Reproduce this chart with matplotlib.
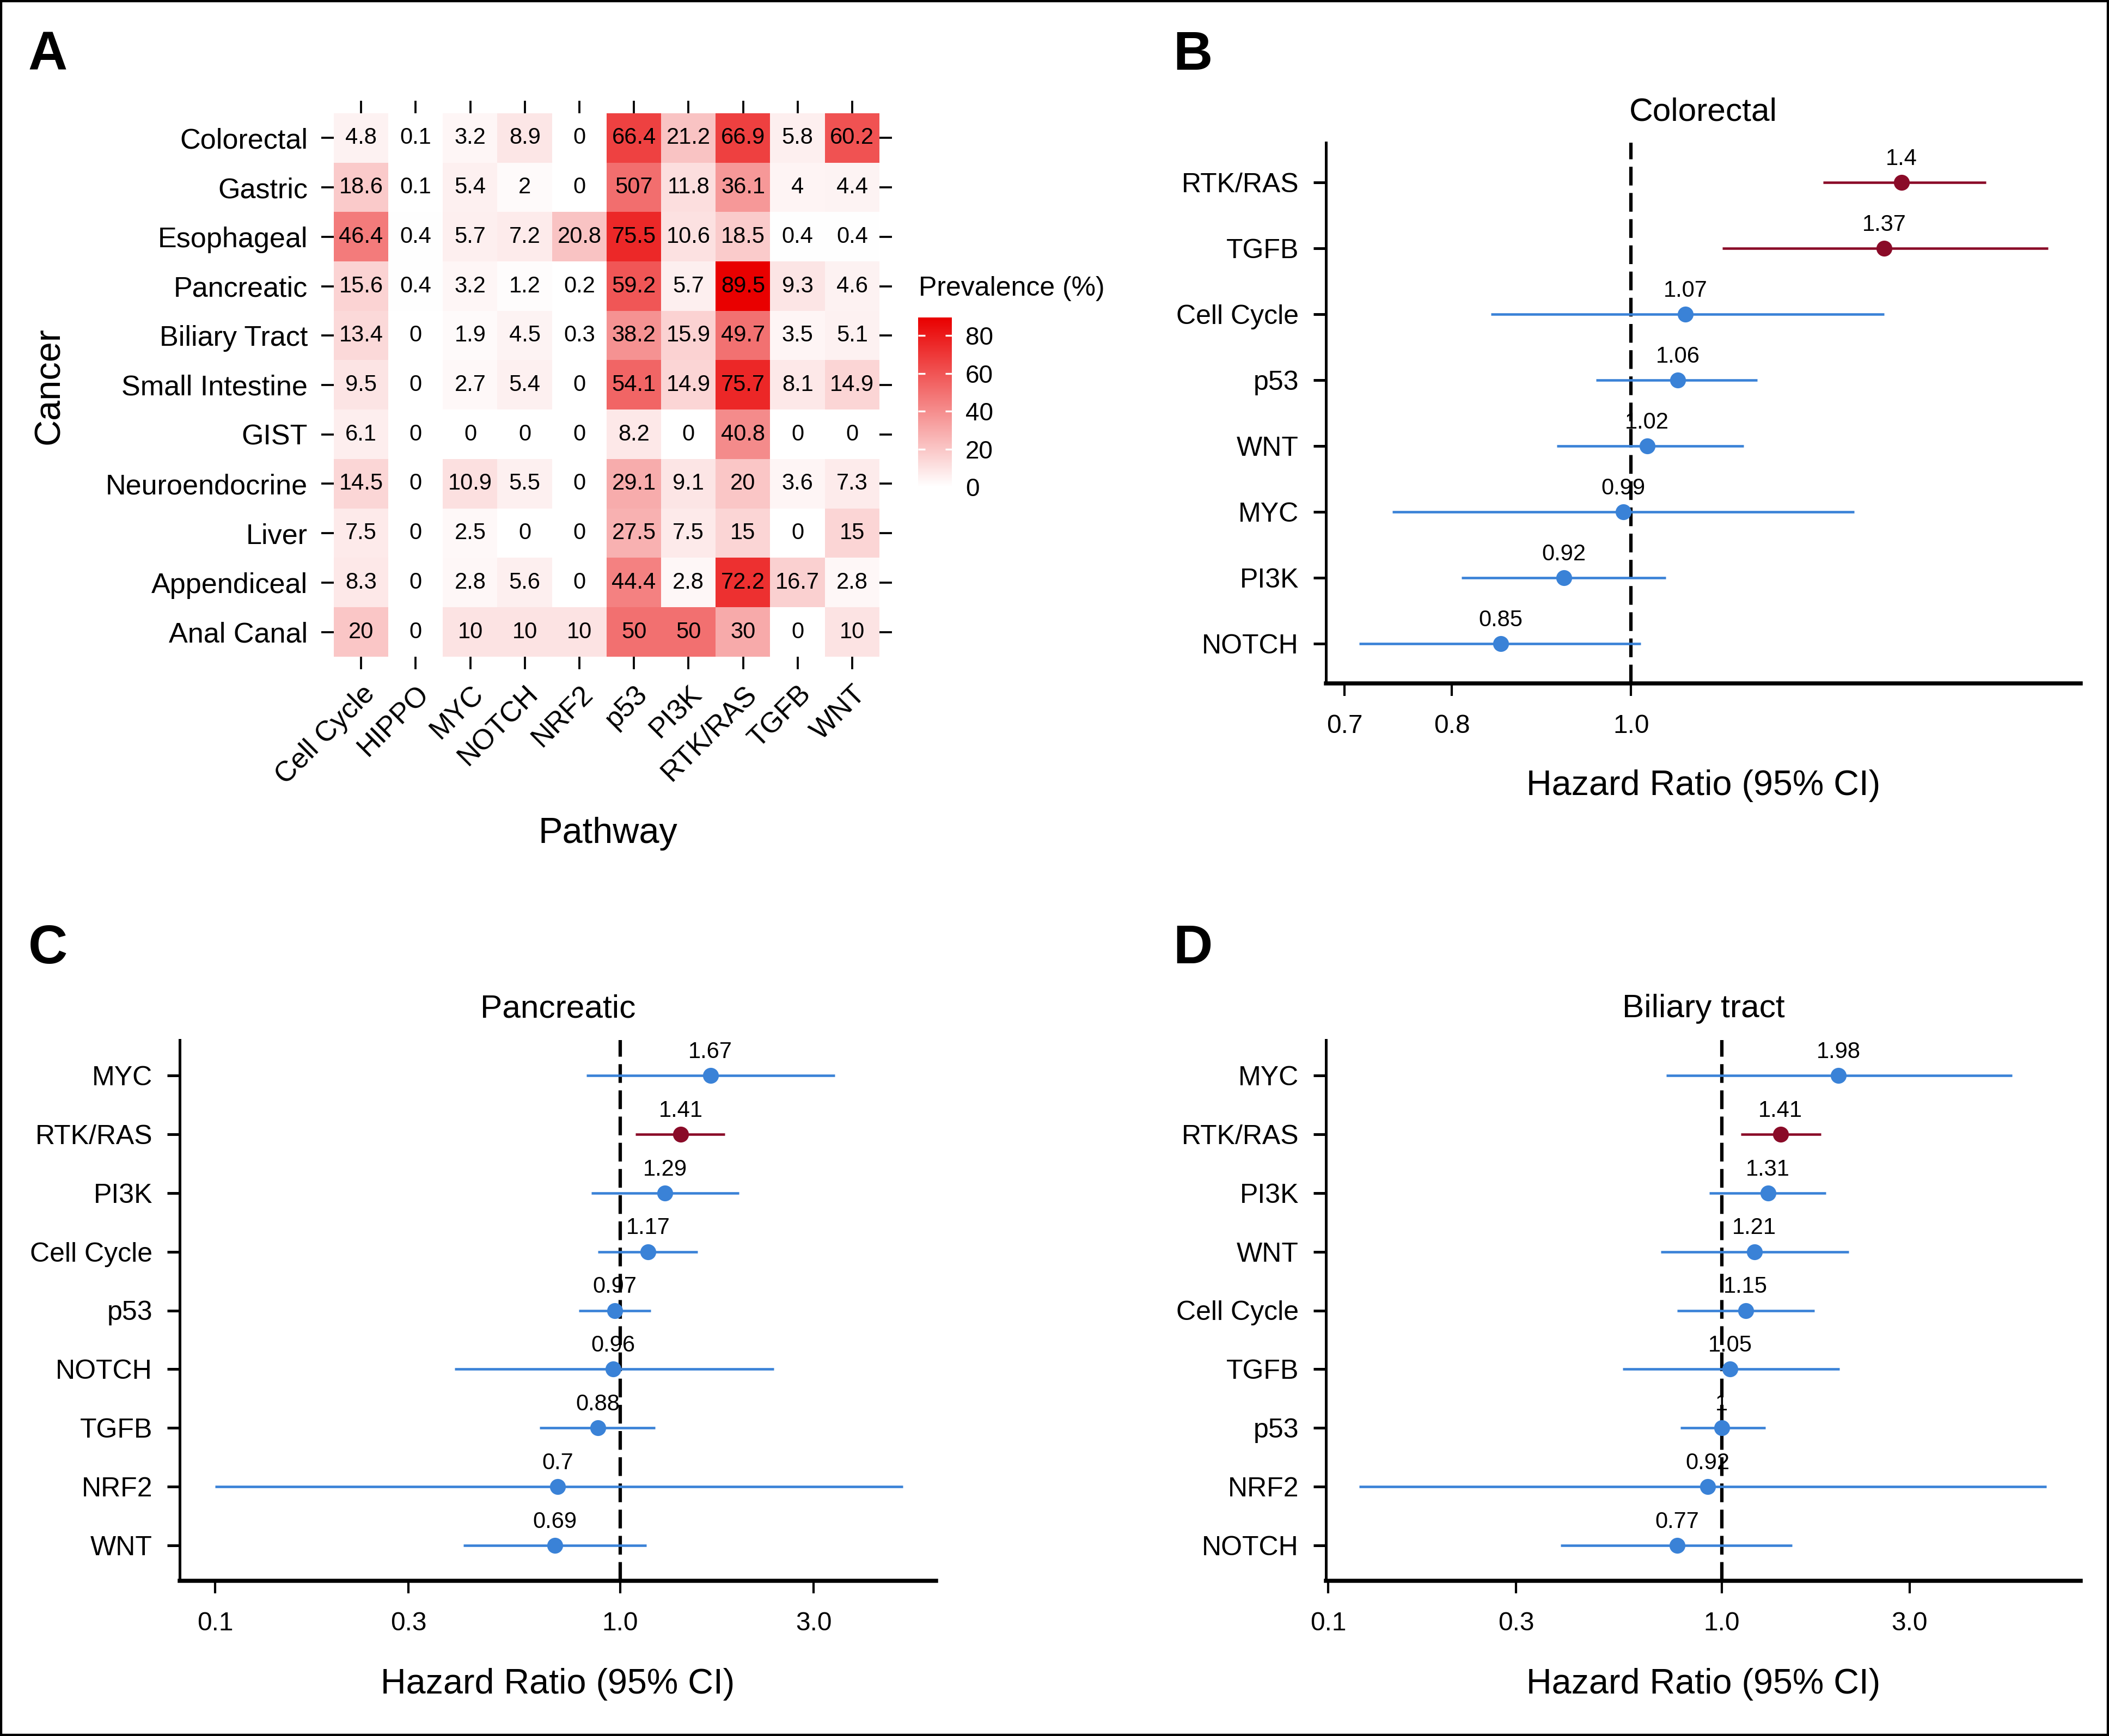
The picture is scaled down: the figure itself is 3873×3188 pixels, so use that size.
import numpy as np
import matplotlib
matplotlib.use("Agg")
import matplotlib.pyplot as plt
from matplotlib.colors import LinearSegmentedColormap
from matplotlib.patches import Rectangle
from matplotlib.ticker import NullLocator
from matplotlib import font_manager

plt.rcParams['font.family'] = ['Liberation Sans', 'DejaVu Sans']

# ---- data: panel A heatmap (prevalence %) ----
cancers = ['Colorectal', 'Gastric', 'Esophageal', 'Pancreatic', 'Biliary Tract',
           'Small Intestine', 'GIST', 'Neuroendocrine', 'Liver', 'Appendiceal', 'Anal Canal']
pathways = ['Cell Cycle', 'HIPPO', 'MYC', 'NOTCH', 'NRF2', 'p53', 'PI3K', 'RTK/RAS', 'TGFB', 'WNT']
prevalence = np.array([
    [4.8, 0.1, 3.2, 8.9, 0, 66.4, 21.2, 66.9, 5.8, 60.2],
    [18.6, 0.1, 5.4, 2, 0, 50.7, 11.8, 36.1, 4, 4.4],
    [46.4, 0.4, 5.7, 7.2, 20.8, 75.5, 10.6, 18.5, 0.4, 0.4],
    [15.6, 0.4, 3.2, 1.2, 0.2, 59.2, 5.7, 89.5, 9.3, 4.6],
    [13.4, 0, 1.9, 4.5, 0.3, 38.2, 15.9, 49.7, 3.5, 5.1],
    [9.5, 0, 2.7, 5.4, 0, 54.1, 14.9, 75.7, 8.1, 14.9],
    [6.1, 0, 0, 0, 0, 8.2, 0, 40.8, 0, 0],
    [14.5, 0, 10.9, 5.5, 0, 29.1, 9.1, 20, 3.6, 7.3],
    [7.5, 0, 2.5, 0, 0, 27.5, 7.5, 15, 0, 15],
    [8.3, 0, 2.8, 5.6, 0, 44.4, 2.8, 72.2, 16.7, 2.8],
    [20, 0, 10, 10, 10, 50, 50, 30, 0, 10],
])
# the printed label in the source reads "507" for gastric p53
label_override = {(1, 5): '507'}

# ---- data: panel B colorectal ----
b_names = ['RTK/RAS', 'TGFB', 'Cell Cycle', 'p53', 'WNT', 'MYC', 'PI3K', 'NOTCH']
b_hr = [1.40, 1.37, 1.07, 1.06, 1.02, 0.99, 0.92, 0.85]
b_lo = [1.27, 1.12, 0.84, 0.957, 0.912, 0.743, 0.81, 0.713]
b_hi = [1.555, 1.68, 1.37, 1.17, 1.15, 1.32, 1.044, 1.012]
b_sig = [True, True, False, False, False, False, False, False]

# ---- data: panel C pancreatic ----
c_names = ['MYC', 'RTK/RAS', 'PI3K', 'Cell Cycle', 'p53', 'NOTCH', 'TGFB', 'NRF2', 'WNT']
c_hr = [1.67, 1.41, 1.29, 1.17, 0.97, 0.96, 0.88, 0.70, 0.69]
c_lo = [0.825, 1.09, 0.849, 0.88, 0.79, 0.39, 0.632, 0.10, 0.41]
c_hi = [3.39, 1.81, 1.96, 1.55, 1.19, 2.39, 1.22, 4.99, 1.16]
c_sig = [False, True, False, False, False, False, False, False, False]

# ---- data: panel D biliary tract ----
d_names = ['MYC', 'RTK/RAS', 'PI3K', 'WNT', 'Cell Cycle', 'TGFB', 'p53', 'NRF2', 'NOTCH']
d_hr = [1.98, 1.41, 1.31, 1.21, 1.15, 1.05, 1.0, 0.92, 0.77]
d_lo = [0.722, 1.12, 0.93, 0.70, 0.77, 0.56, 0.785, 0.12, 0.39]
d_hi = [5.47, 1.79, 1.84, 2.10, 1.72, 1.99, 1.29, 6.69, 1.51]
d_sig = [False, True, False, False, False, False, False, False, False]

RED = '#8A0B28'
BLUE = '#3A82D7'

W, H = 3873, 3188
fig = plt.figure(figsize=(W / 300, H / 300), dpi=300)


def fx(px):
    return px / W


def fy(py):
    return 1 - py / H


fonts = {f.name for f in font_manager.fontManager.ttflist}
if 'Liberation Sans Narrow' in fonts:
    hr_font = dict(family=['Liberation Sans Narrow', 'DejaVu Sans'], size=18.5)
else:
    hr_font = dict(family=['Liberation Sans', 'DejaVu Sans'], size=15.5)

# ---------------- Panel A ----------------
cmap = LinearSegmentedColormap.from_list('prev', ['#FFFFFF', '#E90000'])
ax_h = fig.add_axes([fx(613), fy(1206), fx(1615) - fx(613), fy(208) - fy(1206)])
im = ax_h.imshow(prevalence, cmap=cmap, vmin=0, vmax=prevalence.max(),
                 aspect='auto', interpolation='nearest')
for i in range(prevalence.shape[0]):
    for j in range(prevalence.shape[1]):
        txt = label_override.get((i, j), f"{prevalence[i, j]:g}")
        ax_h.text(j, i, txt, ha='center', va='center', fontsize=10)
for s in ax_h.spines.values():
    s.set_visible(False)
ax_h.set_xticks(range(len(pathways)))
ax_h.set_xticklabels(pathways, rotation=45, ha='right', rotation_mode='anchor')
ax_h.set_yticks(range(len(cancers)))
ax_h.set_yticklabels(cancers)
ax_h.tick_params(axis='x', top=True, bottom=True, labeltop=False, length=5.5,
                 width=0.9, pad=5, labelsize=12.5)
ax_h.tick_params(axis='y', left=True, right=True, labelright=False, length=5.5,
                 width=0.9, pad=6, labelsize=12.5)

cax = fig.add_axes([fx(1686), fy(894), fx(1748) - fx(1686), fy(583) - fy(894)])
cb = fig.colorbar(im, cax=cax, ticks=[0, 20, 40, 60, 80])
cb.outline.set_visible(False)
cax.tick_params(left=True, right=True, labelleft=False, labelright=True,
                direction='in', color='white', length=3, width=0.8,
                labelsize=11, pad=6)
fig.text(fx(1687), fy(530), 'Prevalence (%)', fontsize=12, ha='left', va='center')
fig.text(fx(91), fy(709), 'Cancer', fontsize=16, rotation=90, ha='center', va='center')
fig.text(fx(1116), fy(1531), 'Pathway', fontsize=16, ha='center', va='center')


# ---------------- Forest plots ----------------
def forest(left, right, top, bottom, names, hr, lo, hi, sig, xlim, xticks,
           xticklabels, title, title_y, xlabel_y):
    ax = fig.add_axes([fx(left), fy(bottom), fx(right) - fx(left), fy(top) - fy(bottom)])
    n = len(names)
    y = np.arange(n)[::-1]
    ax.axvline(1, color='black', lw=1.5, dashes=(5.5, 2.2), zorder=1)
    for yi, h, l, u, s in zip(y, hr, lo, hi, sig):
        c = RED if s else BLUE
        ax.plot([l, u], [yi, yi], color=c, lw=1.1, solid_capstyle='butt', zorder=2)
        ax.plot([h], [yi], 'o', color=c, ms=6, zorder=3)
        ax.annotate(f"{h:g}", (h, yi), xytext=(0, 7.7), textcoords='offset points',
                    ha='center', va='baseline', fontsize=10)
    ax.set_xscale('log')
    ax.set_xlim(xlim)
    ax.set_ylim(-0.6, n - 1 + 0.6)
    ax.set_yticks(y)
    ax.set_yticklabels(names)
    ax.set_xticks(xticks)
    ax.set_xticklabels(xticklabels)
    ax.xaxis.set_minor_locator(NullLocator())
    ax.spines['top'].set_visible(False)
    ax.spines['right'].set_visible(False)
    ax.spines['bottom'].set_linewidth(1.8)
    ax.spines['left'].set_linewidth(1.2)
    ax.tick_params(axis='x', length=5.5, width=1, pad=8, labelsize=11.5)
    ax.tick_params(axis='y', length=5.5, width=1.2, pad=6.5, labelsize=12)
    cx = (left + right) / 2
    fig.text(fx(cx), fy(title_y), title, fontsize=14.5, ha='center', va='center')
    fig.text(fx(cx), fy(xlabel_y), 'Hazard Ratio (95% CI)', ha='center', va='center',
             **hr_font)
    return ax


forest(2435, 3821, 262, 1255, b_names, b_hr, b_lo, b_hi, b_sig,
       (0.684, 1.75), [0.7, 0.8, 1.0], ['0.7', '0.8', '1.0'], 'Colorectal', 206, 1443)
forest(330, 1719, 1910, 2903, c_names, c_hr, c_lo, c_hi, c_sig,
       (0.0817, 6.02), [0.1, 0.3, 1.0, 3.0], ['0.1', '0.3', '1.0', '3.0'],
       'Pancreatic', 1853, 3093)
forest(2435, 3821, 1910, 2903, d_names, d_hr, d_lo, d_hi, d_sig,
       (0.0987, 8.17), [0.1, 0.3, 1.0, 3.0], ['0.1', '0.3', '1.0', '3.0'],
       'Biliary tract', 1853, 3093)

# panel letters
for letter, px, py in [('A', 88, 102), ('B', 2190, 102), ('C', 88, 1743), ('D', 2190, 1743)]:
    fig.text(fx(px), fy(py), letter, fontsize=24, fontweight='bold', ha='center', va='center')

# outer frame
fig.add_artist(Rectangle((0, 0), 1, 1, transform=fig.transFigure, fill=False,
                         lw=2, ec='black'))

fig.savefig('out.png', dpi=300)
